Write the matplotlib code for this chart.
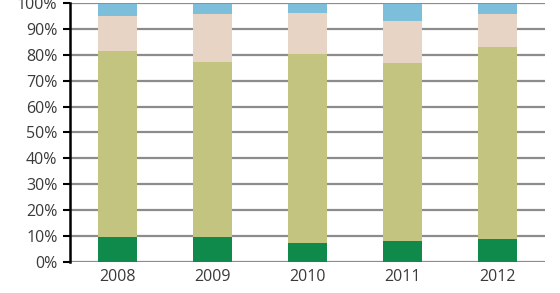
import matplotlib.pyplot as plt
import numpy as np

plt.rcParams['font.family'] = ['Open Sans', 'DejaVu Sans']

years = ['2008', '2009', '2010', '2011', '2012']
dark_green = [9.6, 9.6, 7.2, 8.2, 8.7]
light_green = [71.9, 67.7, 73.1, 68.6, 74.4]
beige = [13.5, 18.4, 15.9, 16.3, 12.6]
blue = [4.5, 3.8, 3.3, 6.4, 3.8]
brown = [0.5, 0.5, 0.5, 0.5, 0.5]

series = [dark_green, light_green, beige, blue, brown]
colors = ['#0f8a4b', '#c3c47f', '#e7d4c4', '#7dbedb', '#a48b73']

fig = plt.figure(figsize=(5.6, 2.93), dpi=100)
ax = fig.add_axes([0.125, 0.106, 0.848, 0.884])

x = np.arange(len(years))
bottom = np.zeros(len(years))
for vals, c in zip(series, colors):
    ax.bar(x, vals, width=0.41, bottom=bottom, color=c, zorder=3)
    bottom += np.array(vals)

ax.set_ylim(0, 100)
ax.set_xlim(-0.5, 4.5)
ax.set_yticks(np.arange(0, 101, 10))
ax.set_yticklabels([f'{v}%' for v in range(0, 101, 10)])
ax.set_xticks(x)
ax.set_xticklabels(years)

ax.yaxis.grid(True, color='#8c8c8c', linewidth=1.6, zorder=0)
ax.set_axisbelow(True)
for s in ['top', 'right', 'bottom']:
    ax.spines[s].set_visible(False)
ax.spines['left'].set_linewidth(1.8)
ax.spines['left'].set_color('black')
ax.tick_params(axis='y', length=5, width=1.5, colors='black', labelcolor='#3a3a3a', labelsize=11.5, pad=4)
ax.tick_params(axis='x', length=0, labelcolor='#3a3a3a', labelsize=11.5, pad=5)

fig.savefig('out.png', dpi=100)
